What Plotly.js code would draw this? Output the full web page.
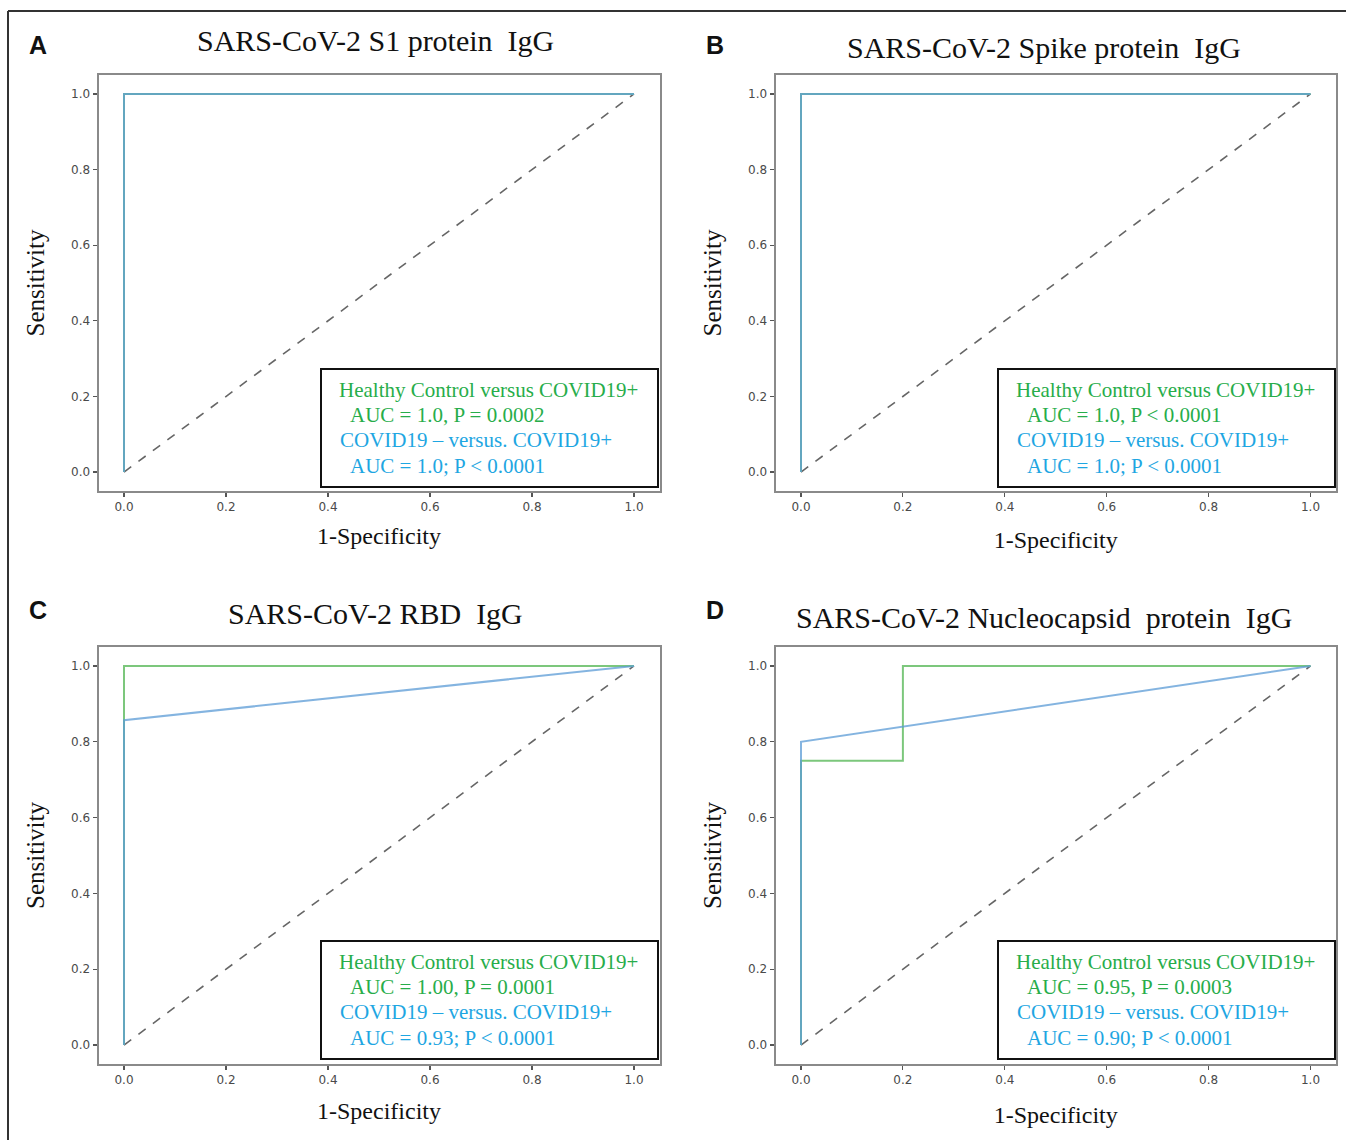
<!DOCTYPE html>
<html>
<head>
<meta charset="utf-8">
<script src="https://cdn.plot.ly/plotly-3.0.1.min.js"></script>
<style>html,body{margin:0;padding:0;background:#fff;}#chart{width:1346px;height:1140px;}</style>
</head>
<body>
<div id="chart"></div>
<script>
// ---- data (1-Specificity / Sensitivity) ----
const panelLetters = ["A", "B", "C", "D"];
const panelTitles = [
  "SARS-CoV-2 S1 protein\u00a0\u00a0IgG",
  "SARS-CoV-2 Spike protein\u00a0\u00a0IgG",
  "SARS-CoV-2 RBD\u00a0\u00a0IgG",
  "SARS-CoV-2 Nucleocapsid\u00a0\u00a0protein\u00a0\u00a0IgG"
];
const hcFprA = [0, 0, 1];        const hcTprA = [0, 1, 1];
const negFprA = [0, 0, 1];       const negTprA = [0, 1, 1];
const hcFprB = [0, 0, 1];        const hcTprB = [0, 1, 1];
const negFprB = [0, 0, 1];       const negTprB = [0, 1, 1];
const hcFprC = [0, 0, 1];        const hcTprC = [0, 1, 1];
const negFprC = [0, 0, 1];       const negTprC = [0, 0.857, 1];
const hcFprD = [0, 0, 0.2, 0.2, 1]; const hcTprD = [0, 0.75, 0.75, 1, 1];
const negFprD = [0, 0, 1];       const negTprD = [0, 0.8, 1];
const chanceX = [0, 1];          const chanceY = [0, 1];
const tickVals = [0, 0.2, 0.4, 0.6, 0.8, 1.0];
const tickLabels = ["0.0", "0.2", "0.4", "0.6", "0.8", "1.0"];
const hcLabel = "Healthy Control versus COVID19+";
const negLabel = "COVID19 \u2013 versus. COVID19+";
const hcStats = ["AUC = 1.0, P = 0.0002", "AUC = 1.0, P &lt; 0.0001", "AUC = 1.00, P = 0.0001", "AUC = 0.95, P = 0.0003"];
const negStats = ["AUC = 1.0; P &lt; 0.0001", "AUC = 1.0; P &lt; 0.0001", "AUC = 0.93; P &lt; 0.0001", "AUC = 0.90; P &lt; 0.0001"];
const xTitle = "1-Specificity";
const yTitle = "Sensitivity";

// ---- layout helpers ----
const W = 1346, H = 1140;
const px = x => x / W;
const py = y => 1 - y / H;
const SERIF = "Liberation Serif, Times New Roman, serif";
const GREEN_LINE = "#7cc77c", BLUE_LINE = "#5b9bd5";
const GREEN_TXT = "#27ad4a", BLUE_TXT = "#1ea6e2";

// panel pixel geometry: plot box left/right/top/bottom
const boxes = [
  {l: 98.5, r: 659.5, t: 75, b: 491},
  {l: 775.5, r: 1336, t: 75, b: 491},
  {l: 98.5, r: 659.5, t: 647, b: 1064},
  {l: 775.5, r: 1336, t: 647, b: 1064}
];
const series = [
  [hcFprA, hcTprA, negFprA, negTprA],
  [hcFprB, hcTprB, negFprB, negTprB],
  [hcFprC, hcTprC, negFprC, negTprC],
  [hcFprD, hcTprD, negFprD, negTprD]
];
const xStandoff = [14, 18, 16, 20];

const traces = [];
const layout = {
  width: W, height: H,
  margin: {l: 0, r: 0, t: 0, b: 0},
  paper_bgcolor: "#ffffff", plot_bgcolor: "#ffffff",
  showlegend: false,
  annotations: [], shapes: []
};

series.forEach((s, i) => {
  const n = i + 1;
  const xa = "x" + (n === 1 ? "" : n), ya = "y" + (n === 1 ? "" : n);
  traces.push({x: chanceX, y: chanceY, xaxis: xa, yaxis: ya, mode: "lines",
    line: {color: "#666666", width: 1.6, dash: "dash"}, hoverinfo: "skip"});
  traces.push({x: s[0], y: s[1], xaxis: xa, yaxis: ya, mode: "lines",
    line: {color: GREEN_LINE, width: 2}, name: hcLabel});
  traces.push({x: s[2], y: s[3], xaxis: xa, yaxis: ya, mode: "lines", opacity: 0.75,
    line: {color: BLUE_LINE, width: 2}, name: negLabel});

  const b = boxes[i];
  const axCommon = {
    range: [-0.05, 1.05], tickvals: tickVals, ticktext: tickLabels,
    showgrid: false, zeroline: false, showline: true, mirror: true,
    linecolor: "#8a8a8a", linewidth: 2, ticks: "outside", ticklen: 4,
    tickwidth: 1.2, tickcolor: "#555555",
    tickfont: {family: "DejaVu Sans, sans-serif", size: 12, color: "#4a4a4a"}
  };
  layout["xaxis" + (n === 1 ? "" : n)] = Object.assign({}, axCommon, {
    domain: [px(b.l), px(b.r)], anchor: ya,
    title: {text: xTitle, font: {family: SERIF, size: 24, color: "#111"}, standoff: xStandoff[i]}
  });
  layout["yaxis" + (n === 1 ? "" : n)] = Object.assign({}, axCommon, {
    domain: [py(b.b), py(b.t)], anchor: xa,
    title: {text: yTitle, font: {family: SERIF, size: 25, color: "#111"}, standoff: 19}
  });

  // panel letter and title
  const col = i % 2, row = Math.floor(i / 2);
  const letterX = col === 0 ? 38 : 715;
  const letterY = row === 0 ? 45 : 610;
  layout.annotations.push({text: "<b>" + panelLetters[i] + "</b>", xref: "paper", yref: "paper",
    x: px(letterX), y: py(letterY), xanchor: "center", yanchor: "middle", showarrow: false,
    font: {family: "Liberation Sans, Arial, sans-serif", size: 25, color: "#111"}});
  const titleY = [40, 47, 613, 617][i];
  layout.annotations.push({text: panelTitles[i], xref: "paper", yref: "paper",
    x: px((b.l + b.r) / 2 - (col === 0 ? 4 : 12)), y: py(titleY), xanchor: "center", yanchor: "middle", showarrow: false,
    font: {family: SERIF, size: 30, color: "#111"}});

  // legend box
  const lx = col === 0 ? 321 : 998;
  const ly = row === 0 ? 369 : 941;
  layout.shapes.push({type: "rect", xref: "paper", yref: "paper",
    x0: px(lx), x1: px(lx + 337), y0: py(ly), y1: py(ly + 118),
    line: {color: "#111111", width: 2}, fillcolor: "#ffffff", layer: "above"});
  const lines = [
    [hcLabel, GREEN_TXT, 16, 21],
    [hcStats[i], GREEN_TXT, 27, 46],
    [negLabel, BLUE_TXT, 17, 71],
    [negStats[i], BLUE_TXT, 27, 97]
  ];
  lines.forEach(L => {
    layout.annotations.push({text: L[0], xref: "paper", yref: "paper",
      x: px(lx + L[2]), y: py(ly + L[3]), xanchor: "left", yanchor: "middle", showarrow: false,
      font: {family: SERIF, size: 21, color: L[1]}});
  });
});

// figure frame (top and left)
layout.shapes.push({type: "line", xref: "paper", yref: "paper", x0: px(8), x1: 1, y0: py(11), y1: py(11),
  line: {color: "#333333", width: 2}});
layout.shapes.push({type: "line", xref: "paper", yref: "paper", x0: px(8), x1: px(8), y0: py(11), y1: 0,
  line: {color: "#333333", width: 2}});

Plotly.newPlot("chart", traces, layout, {staticPlot: true, displayModeBar: false});
</script>
</body>
</html>
